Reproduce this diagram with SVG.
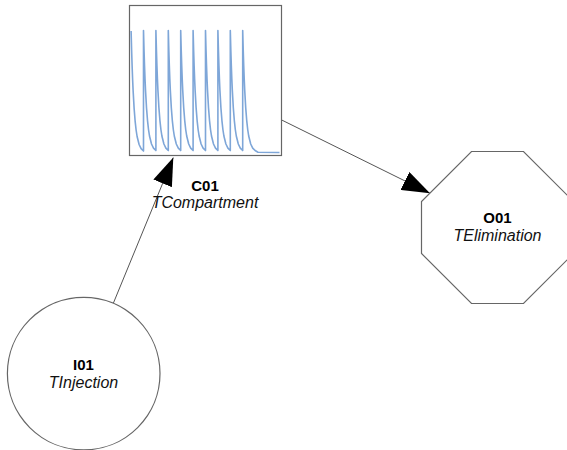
<svg xmlns="http://www.w3.org/2000/svg" width="567" height="450" viewBox="0 0 567 450">
<style>
.node{fill:#fff;stroke:#666;stroke-width:1.2}
.edge{fill:none;stroke:#555;stroke-width:1}
.id{font-family:"Liberation Sans",Arial,sans-serif;font-size:15px;font-weight:bold;fill:#000;text-anchor:middle}
.type{font-family:"Liberation Sans",Arial,sans-serif;font-size:16px;font-style:italic;fill:#111;text-anchor:middle}
.plot{fill:none;stroke:#7ea6d8;stroke-width:1.6;stroke-linejoin:round}
</style>
<defs>
<marker id="arr" markerUnits="userSpaceOnUse" markerWidth="28" markerHeight="20" refX="28" refY="10" orient="auto">
<path d="M0,0 L28,10 L0,20 Z" fill="#000"/>
</marker>
</defs>
<rect width="567" height="450" fill="#fff"/>
<g id="edges">
<line class="edge" x1="113.3" y1="303.3" x2="173.3" y2="157.5" marker-end="url(#arr)"/>
<line class="edge" x1="281.7" y1="120" x2="430" y2="193.3" marker-end="url(#arr)"/>
</g>
<g id="C01">
<rect class="node" x="129.5" y="5.5" width="152" height="150"/>
<path class="plot" d="M131.1,31 l0.5,18.7 0.5,15.9 0.5,13.4 0.5,11.4 1,17.7 1,12.7 1,9.2 1,6.5 2,8 2,4.1 2.4,2.45 V30.5 l0.5,18.7 0.5,15.9 0.5,13.4 0.5,11.4 1,17.7 1,12.7 1,9.2 1,6.5 2,8 2,4.1 2.4,2.45 V30.5 l0.5,18.7 0.5,15.9 0.5,13.4 0.5,11.4 1,17.7 1,12.7 1,9.2 1,6.5 2,8 2,4.1 2.4,2.45 V30.5 l0.5,18.7 0.5,15.9 0.5,13.4 0.5,11.4 1,17.7 1,12.7 1,9.2 1,6.5 2,8 2,4.1 2.4,2.45 V30.5 l0.5,18.7 0.5,15.9 0.5,13.4 0.5,11.4 1,17.7 1,12.7 1,9.2 1,6.5 2,8 2,4.1 2.4,2.45 V30.5 l0.5,18.7 0.5,15.9 0.5,13.4 0.5,11.4 1,17.7 1,12.7 1,9.2 1,6.5 2,8 2,4.1 2.4,2.45 V30.5 l0.5,18.7 0.5,15.9 0.5,13.4 0.5,11.4 1,17.7 1,12.7 1,9.2 1,6.5 2,8 2,4.1 2.4,2.45 V30.5 l0.5,18.7 0.5,15.9 0.5,13.4 0.5,11.4 1,17.7 1,12.7 1,9.2 1,6.5 2,8 2,4.1 2.4,2.45 V30.5 l0.5,18.7 0.5,15.9 0.5,13.4 0.5,11.4 1,17.7 1,12.7 1,9.2 1,6.5 2,8 2,4.1 2.4,2.45 V30.5 l0.5,18.7 0.5,15.9 0.5,13.4 0.5,11.4 1,17.7 1,12.7 1,9.2 1,6.5 2,8 2,4.1 2.4,2.45 L258,152.2 L279.5,152.5"/>
<text class="id" x="205" y="190.5">C01</text>
<text class="type" x="205" y="208">TCompartment</text>
</g>
<g id="O01">
<polygon class="node" points="471.5,151.5 523.5,151.5 573.5,201.5 573.5,253.5 523.5,303.5 471.5,303.5 421.5,253.5 421.5,201.5"/>
<text class="id" x="497.5" y="222.7">O01</text>
<text class="type" x="497.5" y="240.5">TElimination</text>
</g>
<g id="I01">
<circle class="node" cx="83.7" cy="373.6" r="76.3"/>
<text class="id" x="83.5" y="370">I01</text>
<text class="type" x="83.5" y="388">TInjection</text>
</g>
</svg>
